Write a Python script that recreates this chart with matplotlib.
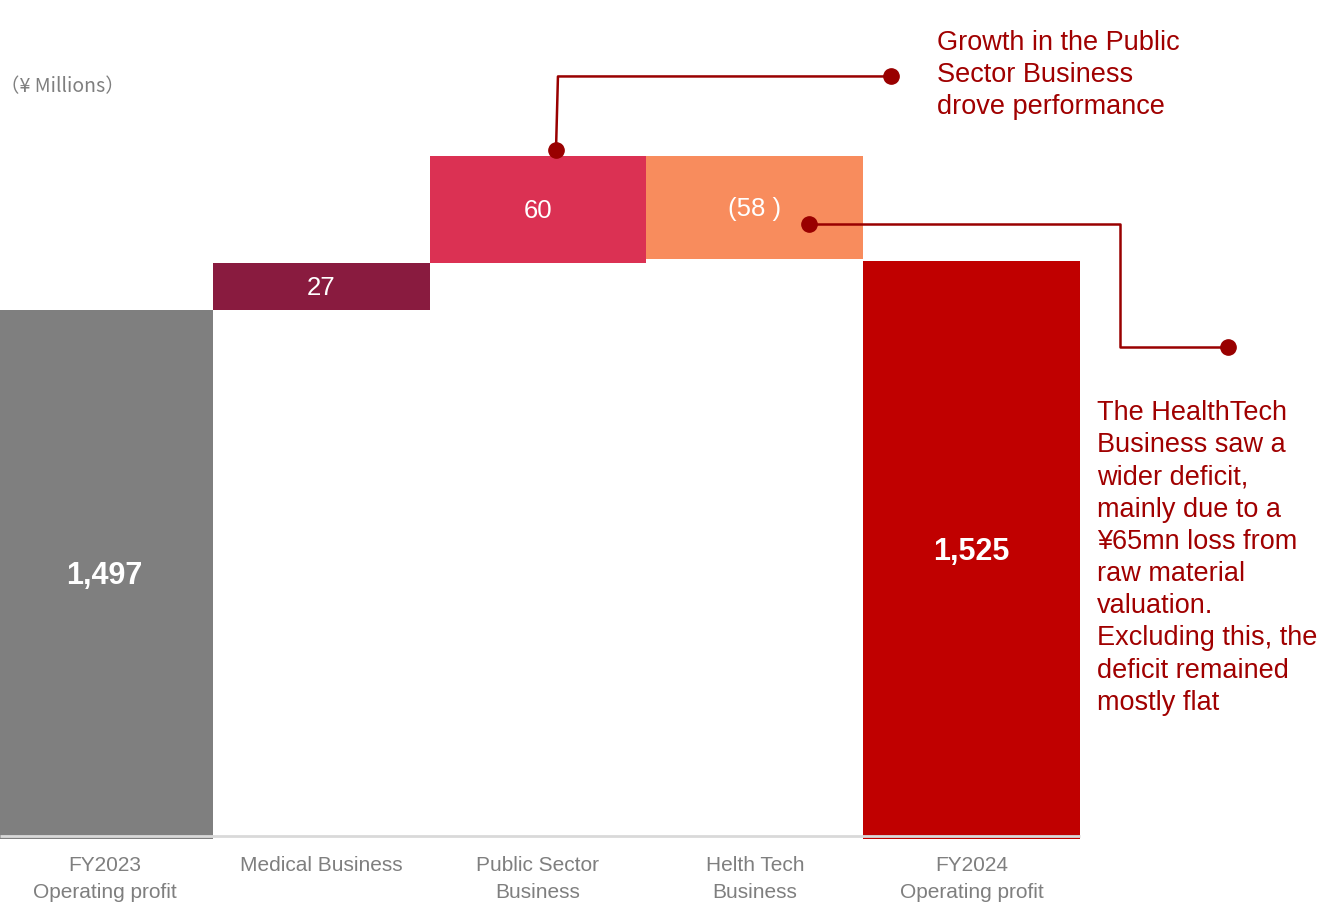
import matplotlib
matplotlib.use("Agg")
import matplotlib.pyplot as plt

plt.rcParams["font.family"] = ["Liberation Sans", "DejaVu Sans"]

# operating profit bridge, FY2023 -> FY2024 (JPY millions)
categories = [
    "FY2023\nOperating profit",
    "Medical Business",
    "Public Sector\nBusiness",
    "Helth Tech\nBusiness",
    "FY2024\nOperating profit",
]
start_value = 1497
changes = [27, 60, -58]
end_value = 1525
value_labels = ["1,497", "27", "60", "(58 )", "1,525"]

colors = ["#7f7f7f", "#891b3f", "#db3153", "#f88c5d", "#c00000"]
note_color = "#a00000"
line_color = "#990000"
grey_text = "#7f7f7f"

public_note = "Growth in the Public\nSector Business\ndrove performance"
healthtech_note = (
    "The HealthTech\nBusiness saw a\nwider deficit,\nmainly due to a\n"
    "\u00a565mn loss from\nraw material\nvaluation.\nExcluding this, the\n"
    "deficit remained\nmostly flat"
)

# the value axis is cut off below this level
floor = 1199
ceiling = 1672

# bottoms / heights for the floating bars
bottoms, heights = [floor], [start_value - floor]
running = start_value
for c in changes:
    if c >= 0:
        bottoms.append(running)
        heights.append(c)
    else:
        bottoms.append(running + c)
        heights.append(-c)
    running += c
bottoms.append(floor)
heights.append(end_value - floor)

fig = plt.figure(figsize=(13.2, 9.08), dpi=100)
ax = fig.add_axes([0, 69 / 908, 1, 839 / 908])
x = list(range(len(categories)))
ax.bar(x, heights, bottom=bottoms, width=1.0, color=colors, linewidth=0, zorder=2)

# first bar runs a little past the left edge
x_left = -0.5 + 4 / 216.8
ax.set_xlim(x_left, x_left + 1320 / 216.8)
ax.set_ylim(floor, ceiling)
for s in ax.spines.values():
    s.set_visible(False)
ax.set_yticks([])
ax.set_xticks(x)
ax.set_xticklabels(categories, fontsize=15, color=grey_text, linespacing=1.58)
ax.tick_params(axis="x", length=0, pad=12)

# light base line across the bars
ax.hlines(floor + 1.7, x_left, len(categories) - 0.5, color="#d9d9d9", lw=2, zorder=3)

for i, (b, h, lab) in enumerate(zip(bottoms, heights, value_labels)):
    total = i in (0, len(categories) - 1)
    ax.text(i, b + h / 2 - 1, lab, ha="center", va="center", color="white",
            fontsize=22 if total else 18.5, fontweight="bold" if total else "normal",
            zorder=4)

# callout for the public sector bar
pub_top = bottoms[2] + heights[2]
ax.plot([2.083, 2.092, 3.628], [pub_top + 3.2, 1628.9, 1628.9],
        color=line_color, lw=1.8, zorder=5, clip_on=False)
ax.plot([2.083, 3.628], [pub_top + 3.2, 1628.9], "o", color=line_color,
        ms=11, zorder=6, clip_on=False)
fig.text(937 / 1320, 1 - 30 / 908, public_note, ha="left", va="top",
         fontsize=19.5, color=note_color, linespacing=1.31)

# callout for the health tech bar
ax.plot([3.250, 4.684, 4.684, 5.182], [1545.5, 1545.5, 1476.2, 1476.2],
        color=line_color, lw=1.8, zorder=5, clip_on=False)
ax.plot([3.250, 5.182], [1545.5, 1476.2], "o", color=line_color,
        ms=11, zorder=6, clip_on=False)
fig.text(1097 / 1320, 1 - 400 / 908, healthtech_note, ha="left", va="top",
         fontsize=19.5, color=note_color, linespacing=1.31)

fig.text(0.0, 1 - 87 / 908, "\uff08\u00a5 Millions\uff09", ha="left", va="center",
         fontsize=14, color=grey_text,
         family=["Noto Sans CJK JP", "DejaVu Sans"])

fig.savefig("out.png", dpi=100)
